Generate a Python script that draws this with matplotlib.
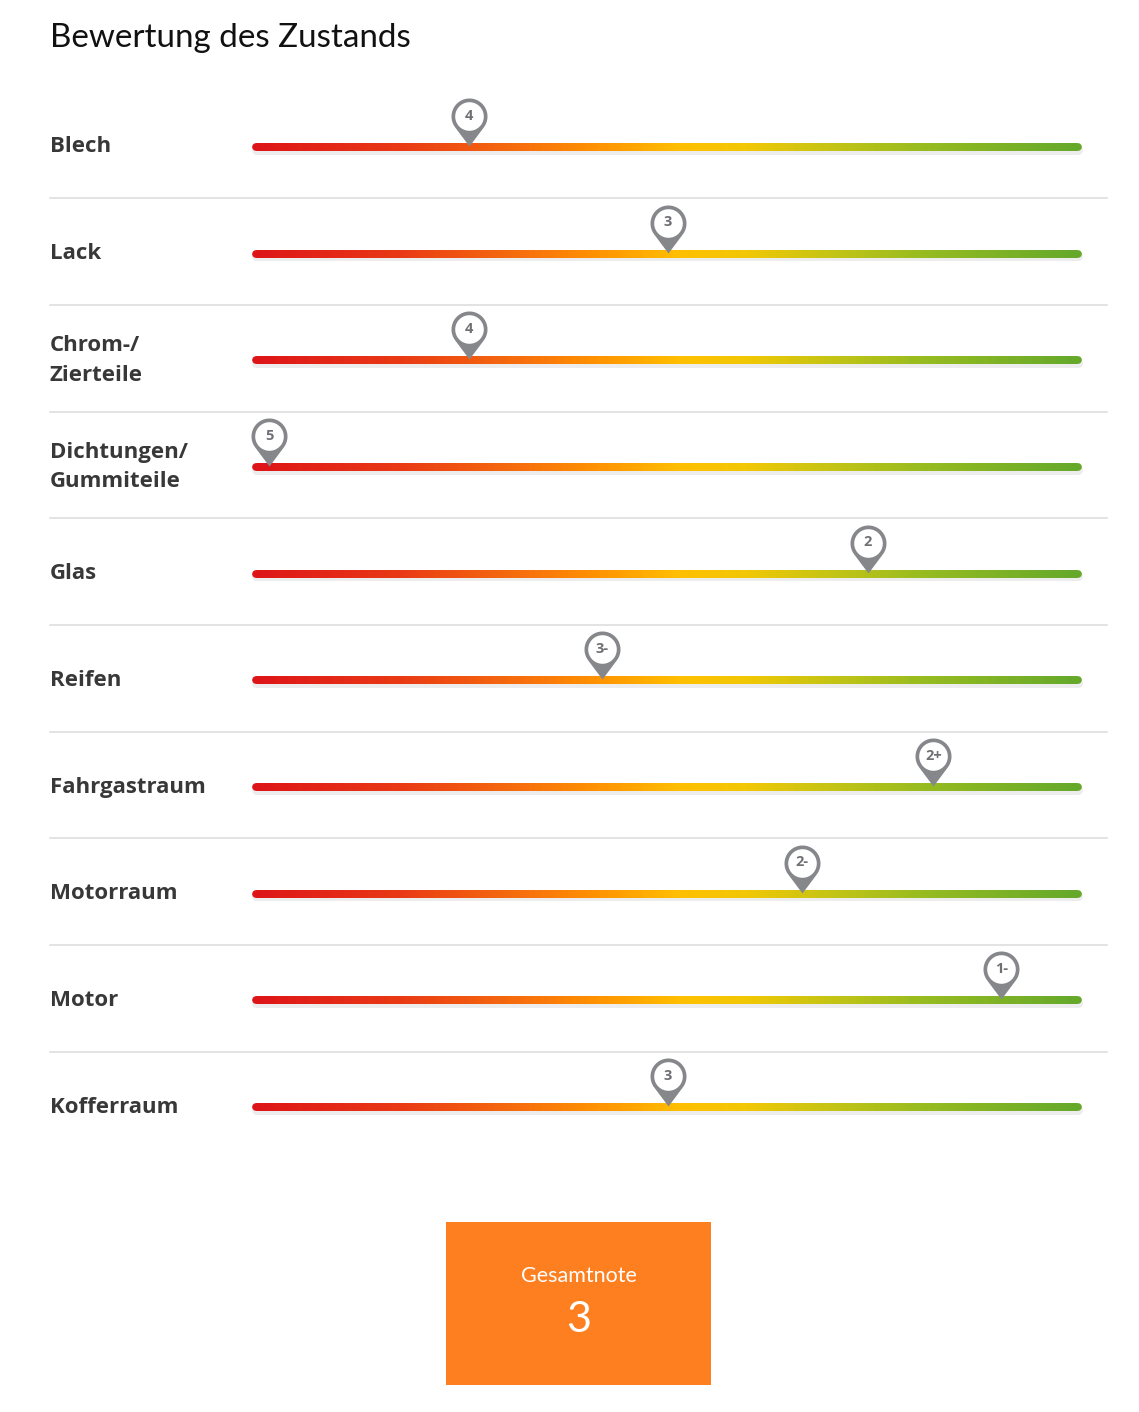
import numpy as np
import matplotlib
matplotlib.use("Agg")
import matplotlib.pyplot as plt
from matplotlib.path import Path
from matplotlib.collections import LineCollection
from matplotlib.colors import LinearSegmentedColormap
from matplotlib.transforms import blended_transform_factory

# --- data ---
categories = ["Blech", "Lack", "Chrom-/\nZierteile", "Dichtungen/\nGummiteile", "Glas",
              "Reifen", "Fahrgastraum", "Motorraum", "Motor", "Kofferraum"]
grade_labels = ["4", "3", "4", "5", "2", "3-", "2+", "2-", "1-", "3"]
grade_values = [4.0, 3.0, 4.0, 5.0, 2.0, 3.33, 1.67, 2.33, 1.33, 3.0]
scale_min, scale_max = 5.066, 0.944   # left (worst) and right (best) end of the bar
overall_label = "Gesamtnote"
overall_grade = "3"

W, H = 1139, 1412
fig = plt.figure(figsize=(W / 100, H / 100), dpi=100)
fig.patch.set_facecolor("white")

# axes over whole figure: x in grade units, y in row index
ax = fig.add_axes([0, 0, 1, 1])
px_per_grade = 199.5
x_left = 5 + 269 / px_per_grade
x_right = 5 - (W - 269) / px_per_grade
row_px = 106.67
y_top = -147 / row_px
y_bot = (H - 147) / row_px
ax.set_xlim(x_left, x_right)
ax.set_ylim(y_bot, y_top)
ax.axis("off")

fig.text(50 / W, 1 - 38 / H, "Bewertung des Zustands", fontsize=23.9, family="Lato",
         color="#111111", va="center", ha="left")

cmap = LinearSegmentedColormap.from_list("grade", [
    (0.00, "#dd1418"), (0.18, "#e93a14"), (0.33, "#f7700c"), (0.42, "#ff9300"),
    (0.52, "#ffbf00"), (0.60, "#f2c704"), (0.70, "#c6c414"), (0.82, "#96bb20"),
    (1.00, "#66a92a")])

# pin path (units: pixels, tip at origin, y up)
r_out, r_in, c = 18.0, 14.3, 30.0
a = np.degrees(np.arccos(r_out / c))
th = np.radians(np.linspace(-90 + a, 270 - a, 60))
outer = np.column_stack([r_out * np.cos(th), c + r_out * np.sin(th)])
outer = np.vstack([[0, 0], outer, [0, 0]])
th2 = np.radians(np.linspace(360, 0, 60))
inner = np.column_stack([r_in * np.cos(th2), c + r_in * np.sin(th2)])
verts = np.vstack([outer, inner])
codes = ([Path.MOVETO] + [Path.LINETO] * (len(outer) - 2) + [Path.CLOSEPOLY]
         + [Path.MOVETO] + [Path.LINETO] * (len(inner) - 2) + [Path.CLOSEPOLY])
pin = Path(verts, codes)
pin_size = 2 * (c + r_out) * 0.72

label_trans = blended_transform_factory(ax.transAxes, ax.transData)
xs = np.linspace(scale_min, scale_max, 400)
for i, (name, lab, val) in enumerate(zip(categories, grade_labels, grade_values)):
    # shadow
    ax.plot([scale_min, scale_max], [i + 2.5 / row_px] * 2, color="#000000", alpha=0.07,
            lw=6.5, solid_capstyle="round", zorder=1)
    segs = np.stack([np.column_stack([xs[:-1], [i] * (len(xs) - 1)]),
                     np.column_stack([xs[1:], [i] * (len(xs) - 1)])], axis=1)
    lc = LineCollection(segs, colors=cmap(np.linspace(0, 1, len(segs))), linewidths=5.6,
                        capstyle="round", zorder=2)
    ax.add_collection(lc)
    ax.plot(val, i - 1 / row_px, marker=pin, markersize=pin_size, color="#86878b",
            markeredgewidth=0, linestyle="none", zorder=4)
    ax.annotate(lab, (val, i - 1 / row_px), xytext=(0, (c + 0.5) * 0.72), textcoords="offset points",
                ha="center", va="center", fontsize=10.5, fontweight="bold", color="#707074",
                family="Open Sans", zorder=5)
    ax.text(50 / W, i, name, transform=label_trans,
            ha="left", va="center", fontsize=16, fontweight="bold", family="Open Sans",
            color="#383838", linespacing=1.55)
    if i < len(categories) - 1:
        ax.axhline(i + 0.48, xmin=50 / W, xmax=1107 / W, color="#dedede", lw=1.2, zorder=0)

# overall grade box
bx = fig.add_axes([446 / W, 1 - 1385 / H, (711 - 446) / W, (1385 - 1222) / H])
bx.set_facecolor("#fd7f20")
bx.set_xticks([])
bx.set_yticks([])
for s in bx.spines.values():
    s.set_visible(False)
bx.text(0.5, 0.67, overall_label, transform=bx.transAxes, ha="center", va="center",
        color="white", fontsize=15.5, family="Lato")
bx.text(0.5, 0.40, overall_grade, transform=bx.transAxes, ha="center", va="center",
        color="white", fontsize=31, family="Lato")

fig.savefig("out.png", dpi=100, facecolor="white")
